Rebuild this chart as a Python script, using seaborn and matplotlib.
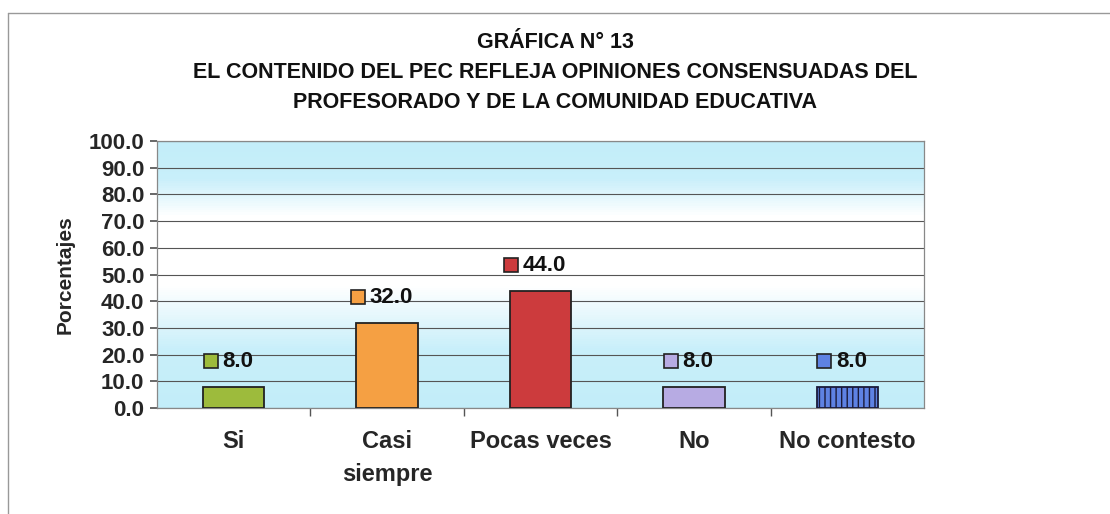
import numpy as np
import matplotlib
matplotlib.use("Agg")
import matplotlib.pyplot as plt
from matplotlib.colors import to_rgb
from matplotlib.lines import Line2D
import seaborn as sns

categorias = ["Si", "Casi\nsiempre", "Pocas veces", "No", "No contesto"]
valores = [8.0, 32.0, 44.0, 8.0, 8.0]
colores = ["#9DBB3C", "#F5A043", "#CC3B3D", "#B7ABE3", "#5E82E3"]
titulo = ["GRÁFICA N° 13",
          "EL CONTENIDO DEL PEC REFLEJA OPINIONES CONSENSUADAS DEL",
          "PROFESORADO Y DE LA COMUNIDAD EDUCATIVA"]
yticks = np.arange(0, 101, 10)

sns.set_theme(style="white")
plt.rcParams['font.family'] = ['Liberation Sans', 'DejaVu Sans']

fig = plt.figure(figsize=(11.1, 5.14), dpi=100)
ax = fig.add_axes([0.1414, 0.206, 0.691, 0.5195])

sns.barplot(x=categorias, y=valores, hue=categorias, palette=colores,
            legend=False, width=0.4, edgecolor="#222222", linewidth=1.3,
            saturation=1, ax=ax, zorder=3)
ax.patches[-1].set_hatch("|||")
ax.patches[-1].set_edgecolor("#1a1a3a")

# fondo degradado del area de trazado (cian - blanco - cian)
cian = np.array(to_rgb("#C2EDF9"))
bordes = np.linspace(0, 1, 121)
for a, b in zip(bordes[:-1], bordes[1:]):
    m = np.interp((a + b) / 2, [0, 0.22, 0.46, 0.72, 0.86, 1],
                  [0, 0.1, 1, 1, 0.1, 0])
    ax.axhspan(a * 100, b * 100, facecolor=tuple(cian * (1 - m) + m),
               edgecolor="none", zorder=0.5)
ax.set_xlim(-0.5, len(categorias) - 0.5)
ax.set_ylim(0, 100)

ax.set_yticks(yticks)
ax.set_yticklabels([f"{t:.1f}" for t in yticks], fontsize=16, fontweight="bold")
ax.yaxis.grid(True, color="#555555", linewidth=0.8)
for gl in ax.get_ygridlines():
    gl.set_zorder(1)

ax.set_xticks(range(len(categorias)))
ax.set_xticklabels(categorias, fontsize=17, fontweight="bold", linespacing=1.55)
ax.tick_params(axis="x", length=0, pad=16)
ax.set_xticks(np.arange(0.5, len(categorias) - 0.5), minor=True)
ax.tick_params(axis="x", which="minor", length=6, color="#555555", bottom=True)
ax.tick_params(axis="y", length=5, color="#555555", left=True, pad=4)

ax.set_ylabel("Porcentajes", fontsize=15, fontweight="bold", labelpad=10)
ax.set_xlabel("")

for s in ax.spines.values():
    s.set_color("#888888")
    s.set_linewidth(0.9)

# etiquetas de valor con clave de color
for i, (v, c) in enumerate(zip(valores, colores)):
    txt = f"{v:.1f}"
    half = 0.04 * len(txt)
    ax.plot(i - half - 0.03, v + 9.5, marker="s", markersize=10,
            markerfacecolor=c, markeredgecolor="#222222", markeredgewidth=1.2,
            zorder=5)
    ax.text(i - half + 0.045, v + 9.5, txt, ha="left", va="center",
            fontsize=16, fontweight="bold", color="#111111", zorder=5)

# titulo
for k, linea in enumerate(titulo):
    fig.text(0.5, 1 - (43 + 30 * k) / 514, linea, ha="center", va="center",
             fontsize=15.5, fontweight="bold", color="#111111")

# marco exterior
fig.add_artist(Line2D([8 / 1110, 1], [1 - 13 / 514, 1 - 13 / 514],
                      color="#999999", linewidth=1))
fig.add_artist(Line2D([8 / 1110, 8 / 1110], [0, 1 - 13 / 514],
                      color="#999999", linewidth=1))

fig.savefig("out.png", dpi=100)
